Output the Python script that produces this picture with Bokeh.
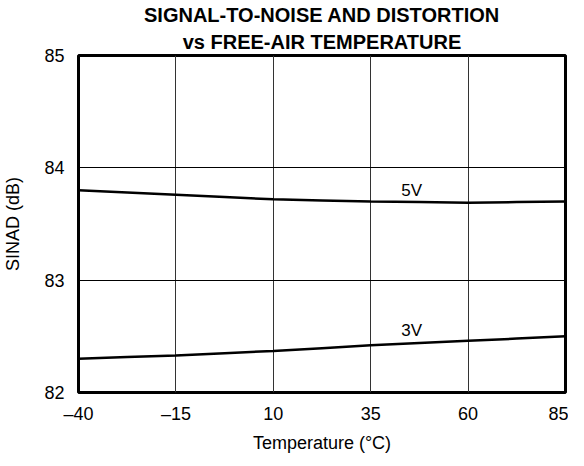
from bokeh.plotting import figure
from bokeh.models import Range1d, FixedTicker, Label, Title
from bokeh.embed import file_html
from bokeh.resources import INLINE

temps = [-40, -27.5, -15, -2.5, 10, 22.5, 35, 47.5, 60, 72.5, 85]
sinad_5v = [83.80, 83.78, 83.76, 83.74, 83.72, 83.71, 83.70, 83.695, 83.69, 83.695, 83.70]
sinad_3v = [82.30, 82.315, 82.33, 82.35, 82.37, 82.395, 82.42, 82.44, 82.46, 82.48, 82.50]
x_ticks = [-40, -15, 10, 35, 60, 85]
x_tick_labels = ["\u201340", "\u201315", "10", "35", "60", "85"]
y_ticks = [82, 83, 84, 85]
series_labels = ["5V", "3V"]
label_pos = [(45.5, 83.80), (45.5, 82.55)]
title_lines = ["SIGNAL-TO-NOISE AND DISTORTION", "vs FREE-AIR TEMPERATURE"]

FONT = "Liberation Sans"

p = figure(width=568, frame_height=337, output_backend="svg", toolbar_location=None,
           x_range=Range1d(-40, 85), y_range=Range1d(82, 85),
           min_border_left=75, min_border_right=3, min_border_top=55, min_border_bottom=10)

def style_title(t, standoff):
    t.align = "center"
    t.text_font = FONT
    t.text_font_size = "20px"
    t.text_font_style = "bold"
    t.text_color = "black"
    t.text_line_height = 1.0
    t.standoff = standoff

p.title.text = title_lines[0]
style_title(p.title, 0)
t2 = Title(text=title_lines[1])
style_title(t2, 6)
p.add_layout(t2, "above")

p.outline_line_color = "black"
p.outline_line_width = 3
p.outline_line_alpha = 1.0

p.xaxis.ticker = FixedTicker(ticks=x_ticks)
p.yaxis.ticker = FixedTicker(ticks=y_ticks)
p.xaxis.major_label_overrides = {t: l for t, l in zip(x_ticks, x_tick_labels)}
for ax in (p.xaxis, p.yaxis):
    ax.axis_line_color = None
    ax.major_tick_line_color = None
    ax.minor_tick_line_color = None
    ax.major_label_text_font = FONT
    ax.major_label_text_font_size = "18px"
    ax.major_label_text_color = "black"
    ax.axis_label_text_font = FONT
    ax.axis_label_text_font_size = "18px"
    ax.axis_label_text_font_style = "normal"
    ax.axis_label_text_color = "black"
p.xaxis.axis_label = "Temperature (\u00b0C)"
p.yaxis.axis_label = "SINAD (dB)"
p.yaxis.major_label_standoff = 8
p.yaxis.axis_label_standoff = 18
p.xaxis.major_label_standoff = 5
p.xaxis.axis_label_standoff = 6

p.xgrid.grid_line_color = "#333333"
p.ygrid.grid_line_color = "black"
p.xgrid.grid_line_width = 1
p.ygrid.grid_line_width = 1

p.line(temps, sinad_5v, line_color="black", line_width=2.5)
p.line(temps, sinad_3v, line_color="black", line_width=2.5)

for txt, (lx, ly) in zip(series_labels, label_pos):
    p.add_layout(Label(x=lx, y=ly, text=txt, text_font=FONT, text_font_size="17px",
                       text_align="center", text_baseline="middle", text_color="black"))

open("out.html", "w").write(file_html(p, INLINE))
